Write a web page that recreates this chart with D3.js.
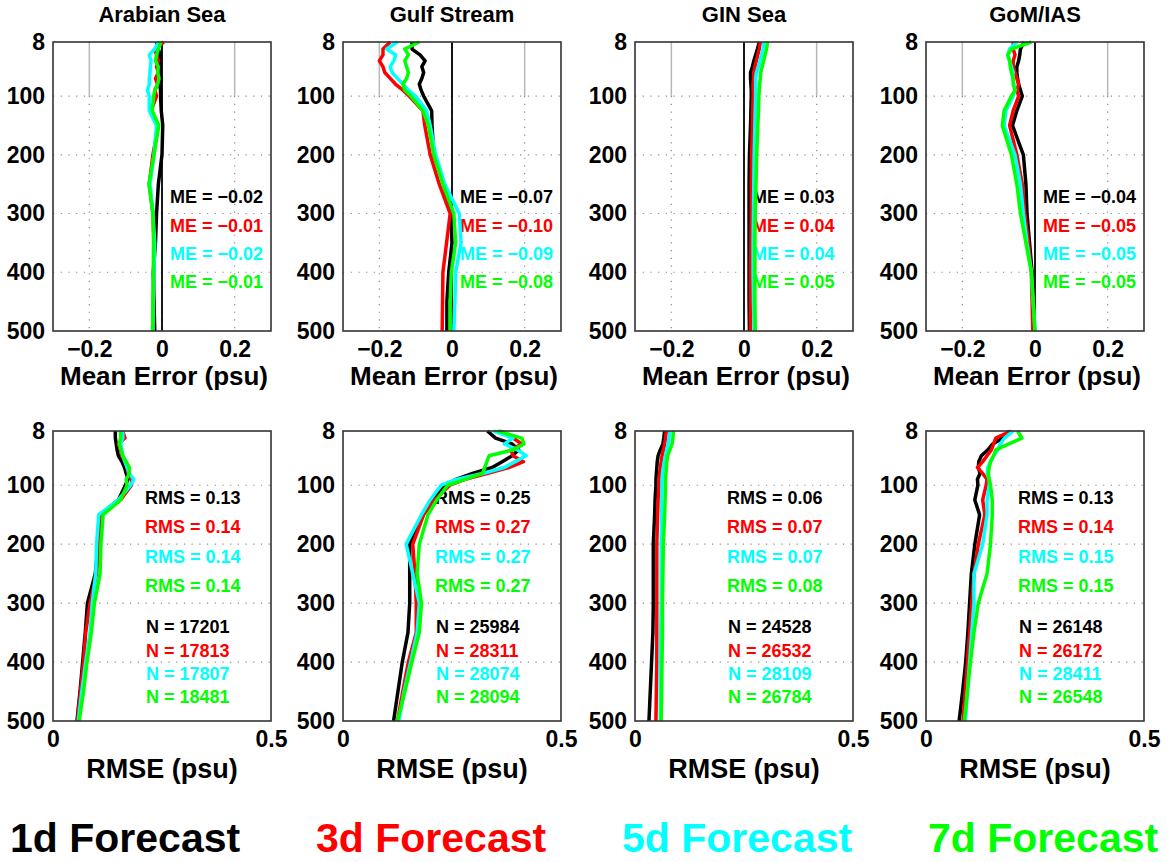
<!DOCTYPE html>
<html>
<head>
<meta charset="utf-8">
<script src="https://cdn.jsdelivr.net/npm/d3@7"></script>
<style>
  html, body { margin: 0; padding: 0; background: #fff; }
  svg { display: block; }
  text { font-family: "Liberation Sans", Arial, Helvetica, sans-serif; font-weight: bold; }
</style>
</head>
<body>
<svg id="chart" width="1167" height="862"></svg>
<script>
// Depth levels (m) of the profiles
const depths = [8, 20, 30, 40, 50, 60, 70, 80, 90, 100, 125, 150, 200, 250, 300, 350, 400, 450, 500];

const regions = ["Arabian Sea", "Gulf Stream", "GIN Sea", "GoM/IAS"];
const forecasts = ["1d Forecast", "3d Forecast", "5d Forecast", "7d Forecast"];
const forecastColors = ["#000000", "#ff0000", "#00ffff", "#00ff00"];

const depthTicks = [8, 100, 200, 300, 400, 500];
const meTicks = [-0.2, 0, 0.2];
const rmseTicks = [0, 0.5];

// Mean error profiles (psu), one row per forecast length: 1d, 3d, 5d, 7d
const meArabianSea = [
  [-0.015, -0.01, -0.005, -0.008, -0.005, -0.006, -0.003, -0.006, -0.004, -0.004, -0.002, 0.002, 0.0, -0.01, -0.015, -0.018, -0.024, -0.022, -0.02],
  [0.005, -0.02, -0.015, -0.01, -0.015, -0.01, -0.018, -0.012, -0.02, -0.015, -0.03, -0.01, -0.025, -0.035, -0.025, -0.022, -0.022, -0.024, -0.025],
  [-0.01, -0.02, -0.035, -0.03, -0.032, -0.033, -0.035, -0.035, -0.04, -0.035, -0.035, -0.015, -0.022, -0.033, -0.025, -0.02, -0.022, -0.024, -0.025],
  [-0.003, -0.01, -0.015, -0.018, -0.01, -0.012, -0.008, -0.012, -0.02, -0.023, -0.027, -0.009, -0.022, -0.036, -0.025, -0.023, -0.024, -0.025, -0.026]
];
const meGulfStream = [
  [-0.11, -0.11, -0.088, -0.074, -0.083, -0.078, -0.083, -0.09, -0.085, -0.078, -0.056, -0.055, -0.05, -0.023, -0.003, 0.0, -0.009, -0.014, -0.014],
  [-0.17, -0.19, -0.19, -0.2, -0.19, -0.185, -0.17, -0.155, -0.135, -0.118, -0.08, -0.075, -0.06, -0.035, -0.005, -0.015, -0.025, -0.026, -0.027],
  [-0.15, -0.18, -0.155, -0.16, -0.17, -0.165, -0.15, -0.135, -0.12, -0.1, -0.07, -0.06, -0.045, -0.02, 0.02, 0.025, 0.01, 0.008, 0.005],
  [-0.09, -0.13, -0.12, -0.13, -0.125, -0.12, -0.125, -0.135, -0.13, -0.113, -0.08, -0.065, -0.05, -0.025, 0.005, 0.01, -0.002, -0.005, -0.005]
];
const meGinSea = [
  [0.042, 0.037, 0.032, 0.027, 0.023, 0.018, 0.018, 0.019, 0.02, 0.02, 0.019, 0.018, 0.015, 0.014, 0.014, 0.014, 0.014, 0.014, 0.015],
  [0.045, 0.042, 0.038, 0.034, 0.03, 0.027, 0.026, 0.025, 0.025, 0.025, 0.024, 0.023, 0.021, 0.02, 0.02, 0.019, 0.018, 0.018, 0.018],
  [0.055, 0.052, 0.048, 0.044, 0.04, 0.034, 0.032, 0.032, 0.032, 0.032, 0.031, 0.03, 0.028, 0.027, 0.026, 0.025, 0.025, 0.026, 0.028],
  [0.065, 0.062, 0.058, 0.054, 0.05, 0.046, 0.045, 0.043, 0.042, 0.041, 0.04, 0.038, 0.035, 0.033, 0.031, 0.03, 0.03, 0.03, 0.031]
];
const meGoM = [
  [-0.03, -0.04, -0.042, -0.045, -0.05, -0.05, -0.048, -0.045, -0.04, -0.035, -0.05, -0.062, -0.032, -0.025, -0.022, -0.015, -0.008, -0.004, -0.002],
  [-0.06, -0.06, -0.055, -0.06, -0.06, -0.055, -0.05, -0.045, -0.05, -0.045, -0.06, -0.07, -0.05, -0.035, -0.028, -0.018, -0.01, -0.008, -0.006],
  [-0.05, -0.07, -0.075, -0.07, -0.065, -0.06, -0.062, -0.058, -0.055, -0.06, -0.08, -0.085, -0.055, -0.04, -0.032, -0.022, -0.01, -0.005, 0.0],
  [-0.01, -0.065, -0.075, -0.07, -0.068, -0.065, -0.06, -0.06, -0.055, -0.065, -0.085, -0.09, -0.065, -0.05, -0.04, -0.025, -0.01, -0.005, 0.0]
];

// RMSE profiles (psu), one row per forecast length
const rmseArabianSea = [
  [0.143, 0.143, 0.145, 0.147, 0.15, 0.158, 0.164, 0.168, 0.172, 0.166, 0.15, 0.108, 0.104, 0.097, 0.079, 0.074, 0.068, 0.062, 0.055],
  [0.16, 0.165, 0.15, 0.155, 0.158, 0.165, 0.17, 0.172, 0.18, 0.18, 0.155, 0.11, 0.105, 0.1, 0.085, 0.075, 0.07, 0.063, 0.056],
  [0.16, 0.16, 0.155, 0.158, 0.16, 0.165, 0.17, 0.175, 0.185, 0.178, 0.15, 0.105, 0.1, 0.098, 0.09, 0.085, 0.075, 0.066, 0.058],
  [0.155, 0.155, 0.152, 0.156, 0.16, 0.168, 0.175, 0.175, 0.168, 0.17, 0.155, 0.115, 0.11, 0.108, 0.095, 0.088, 0.078, 0.07, 0.06]
];
const rmseGulfStream = [
  [0.331, 0.35, 0.388, 0.403, 0.388, 0.365, 0.342, 0.297, 0.259, 0.236, 0.206, 0.183, 0.153, 0.153, 0.153, 0.149, 0.136, 0.126, 0.116],
  [0.36, 0.39, 0.41, 0.385, 0.39, 0.414, 0.38, 0.33, 0.28, 0.245, 0.21, 0.185, 0.16, 0.165, 0.168, 0.168, 0.15, 0.137, 0.125],
  [0.345, 0.39, 0.37, 0.4, 0.42, 0.395, 0.37, 0.32, 0.26, 0.225, 0.2, 0.18, 0.145, 0.16, 0.175, 0.17, 0.155, 0.14, 0.128],
  [0.355, 0.41, 0.415, 0.39, 0.335, 0.33, 0.325, 0.32, 0.28, 0.24, 0.215, 0.195, 0.175, 0.17, 0.18, 0.175, 0.158, 0.142, 0.125]
];
const rmseGinSea = [
  [0.068, 0.066, 0.064, 0.058, 0.053, 0.051, 0.05, 0.049, 0.048, 0.048, 0.046, 0.045, 0.042, 0.042, 0.042, 0.041, 0.038, 0.035, 0.032],
  [0.072, 0.07, 0.068, 0.065, 0.062, 0.06, 0.058, 0.056, 0.055, 0.055, 0.053, 0.052, 0.05, 0.05, 0.05, 0.05, 0.05, 0.049, 0.048],
  [0.08, 0.078, 0.076, 0.073, 0.07, 0.067, 0.065, 0.063, 0.062, 0.062, 0.061, 0.061, 0.06, 0.06, 0.06, 0.059, 0.058, 0.058, 0.058],
  [0.088, 0.087, 0.085, 0.08, 0.075, 0.073, 0.072, 0.071, 0.07, 0.07, 0.069, 0.068, 0.065, 0.064, 0.063, 0.063, 0.062, 0.061, 0.06]
];
const rmseGoM = [
  [0.191, 0.176, 0.153, 0.142, 0.127, 0.121, 0.12, 0.124, 0.118, 0.119, 0.112, 0.123, 0.112, 0.104, 0.1, 0.096, 0.091, 0.084, 0.076],
  [0.195, 0.16, 0.155, 0.15, 0.14, 0.13, 0.118, 0.13, 0.14, 0.138, 0.13, 0.135, 0.12, 0.11, 0.105, 0.1, 0.095, 0.09, 0.085],
  [0.2, 0.18, 0.17, 0.165, 0.155, 0.148, 0.142, 0.14, 0.145, 0.145, 0.14, 0.14, 0.13, 0.11, 0.11, 0.105, 0.1, 0.095, 0.09],
  [0.21, 0.22, 0.19, 0.16, 0.155, 0.148, 0.145, 0.143, 0.145, 0.148, 0.152, 0.152, 0.148, 0.14, 0.12, 0.11, 0.102, 0.095, 0.088]
];

// Summary statistics per region (1d, 3d, 5d, 7d)
const meStats = [[-0.02, -0.01, -0.02, -0.01], [-0.07, -0.10, -0.09, -0.08], [0.03, 0.04, 0.04, 0.05], [-0.04, -0.05, -0.05, -0.05]];
const rmsStats = [[0.13, 0.14, 0.14, 0.14], [0.25, 0.27, 0.27, 0.27], [0.06, 0.07, 0.07, 0.08], [0.13, 0.14, 0.15, 0.15]];
const countStats = [[17201, 17813, 17807, 18481], [25984, 28311, 28074, 28094], [24528, 26532, 28109, 26784], [26148, 26172, 28411, 26548]];

const meProfiles = [meArabianSea, meGulfStream, meGinSea, meGoM];
const rmseProfiles = [rmseArabianSea, rmseGulfStream, rmseGinSea, rmseGoM];

// ---- layout ----
const panelLefts = [53, 343, 635, 926];
const panelW = 218;
const topRow = { y: 42, h: 289 };
const botRow = { y: 431, h: 290 };
const lineWidth = 3.5;

const svg = d3.select("#chart");
const fmt2 = v => (v < 0 ? "\u2212" : "") + Math.abs(v).toFixed(2);
const fmtTick = v => v === 0 ? "0" : (v < 0 ? "\u2212" : "") + String(Math.abs(v));

function drawPanel(left, row, xDomain, xTicks, isMe) {
  const x = d3.scaleLinear().domain(xDomain).range([left, left + panelW]);
  const y = d3.scaleLinear().domain([8, 500]).range([row.y, row.y + row.h]);
  const g = svg.append("g");

  // horizontal dotted grid
  g.selectAll(".hgrid").data(depthTicks.filter(d => d > 8 && d < 500)).join("line")
    .attr("x1", left).attr("x2", left + panelW)
    .attr("y1", d => y(d)).attr("y2", d => y(d))
    .attr("stroke", "#8a8a8a").attr("stroke-width", 1.2)
    .attr("stroke-dasharray", "1.2,6.5");

  if (isMe) {
    // vertical grid: solid in the upper layer, dotted below 100 m
    xTicks.forEach(t => {
      g.append("line").attr("x1", x(t)).attr("x2", x(t))
        .attr("y1", y(8)).attr("y2", y(100))
        .attr("stroke", "#b8b8b8").attr("stroke-width", 1.5);
      g.append("line").attr("x1", x(t)).attr("x2", x(t))
        .attr("y1", y(100)).attr("y2", y(500))
        .attr("stroke", "#8a8a8a").attr("stroke-width", 1.2)
        .attr("stroke-dasharray", "1.2,6.5");
    });
  }

  // tick labels
  const yAxis = d3.axisLeft(y).tickValues(depthTicks).tickSize(0).tickPadding(8).tickFormat(d3.format("d"));
  const ya = g.append("g").attr("transform", `translate(${left},0)`).call(yAxis);
  ya.select(".domain").remove();
  ya.selectAll("text").attr("font-size", 23).attr("font-weight", "bold")
    .attr("font-family", "Liberation Sans, Arial, sans-serif").attr("fill", "#000");

  const xAxis = d3.axisBottom(x).tickValues(xTicks).tickSize(0).tickPadding(0).tickFormat(fmtTick);
  const xa = g.append("g").attr("transform", `translate(0,${row.y + row.h})`).call(xAxis);
  xa.select(".domain").remove();
  xa.selectAll("text").attr("font-size", 23).attr("font-weight", "bold")
    .attr("font-family", "Liberation Sans, Arial, sans-serif").attr("fill", "#000")
    .attr("dy", null).attr("y", 26);

  return { g, x, y };
}

regions.forEach((name, i) => {
  const left = panelLefts[i];

  // ---------- Mean error panel ----------
  const top = drawPanel(left, topRow, [-0.3, 0.3], meTicks, true);
  svg.append("text").attr("x", left + panelW / 2).attr("y", 22)
    .attr("text-anchor", "middle").attr("font-size", 22).text(name);
  svg.append("text").attr("x", left + panelW / 2 + 2).attr("y", 385)
    .attr("text-anchor", "middle").attr("font-size", 26).text("Mean Error (psu)");

  const meOffsets = [161, 190, 218, 246];
  meStats[i].forEach((v, k) => {
    top.g.append("text").attr("x", left + 117).attr("y", topRow.y + meOffsets[k])
      .attr("font-size", 18).attr("fill", forecastColors[k]).text(`ME = ${fmt2(v)}`);
  });

  // zero reference line
  top.g.append("line").attr("x1", top.x(0)).attr("x2", top.x(0))
    .attr("y1", topRow.y).attr("y2", topRow.y + topRow.h)
    .attr("stroke", "#000").attr("stroke-width", 1.8);

  const lineMe = d3.line().x(d => top.x(d[0])).y(d => top.y(d[1]));
  meProfiles[i].forEach((vals, k) => {
    top.g.append("path").datum(vals.map((v, j) => [v, depths[j]]))
      .attr("d", lineMe).attr("fill", "none")
      .attr("stroke", forecastColors[k]).attr("stroke-width", lineWidth)
      .attr("stroke-linejoin", "round");
  });

  top.g.append("rect").attr("x", left).attr("y", topRow.y)
    .attr("width", panelW).attr("height", topRow.h)
    .attr("fill", "none").attr("stroke", "#333").attr("stroke-width", 1.6);

  // ---------- RMSE panel ----------
  const bot = drawPanel(left, botRow, [0, 0.5], rmseTicks, false);
  svg.append("text").attr("x", left + panelW / 2).attr("y", 778)
    .attr("text-anchor", "middle").attr("font-size", 27).text("RMSE (psu)");

  const rmsOffsets = [73, 102, 132, 161];
  const nOffsets = [202, 226, 249, 272];
  rmsStats[i].forEach((v, k) => {
    bot.g.append("text").attr("x", left + 92).attr("y", botRow.y + rmsOffsets[k])
      .attr("font-size", 18).attr("fill", forecastColors[k]).text(`RMS = ${v.toFixed(2)}`);
  });
  countStats[i].forEach((v, k) => {
    bot.g.append("text").attr("x", left + 93).attr("y", botRow.y + nOffsets[k])
      .attr("font-size", 18).attr("fill", forecastColors[k]).text(`N = ${v}`);
  });

  const lineRmse = d3.line().x(d => bot.x(d[0])).y(d => bot.y(d[1]));
  rmseProfiles[i].forEach((vals, k) => {
    bot.g.append("path").datum(vals.map((v, j) => [v, depths[j]]))
      .attr("d", lineRmse).attr("fill", "none")
      .attr("stroke", forecastColors[k]).attr("stroke-width", lineWidth)
      .attr("stroke-linejoin", "round");
  });

  bot.g.append("rect").attr("x", left).attr("y", botRow.y)
    .attr("width", panelW).attr("height", botRow.h)
    .attr("fill", "none").attr("stroke", "#333").attr("stroke-width", 1.6);
});

// forecast legend along the bottom
const legendX = [10, 316, 622, 928];
forecasts.forEach((f, k) => {
  svg.append("text").attr("x", legendX[k]).attr("y", 852)
    .attr("font-size", 41).attr("fill", forecastColors[k]).text(f);
});
</script>
</body>
</html>
